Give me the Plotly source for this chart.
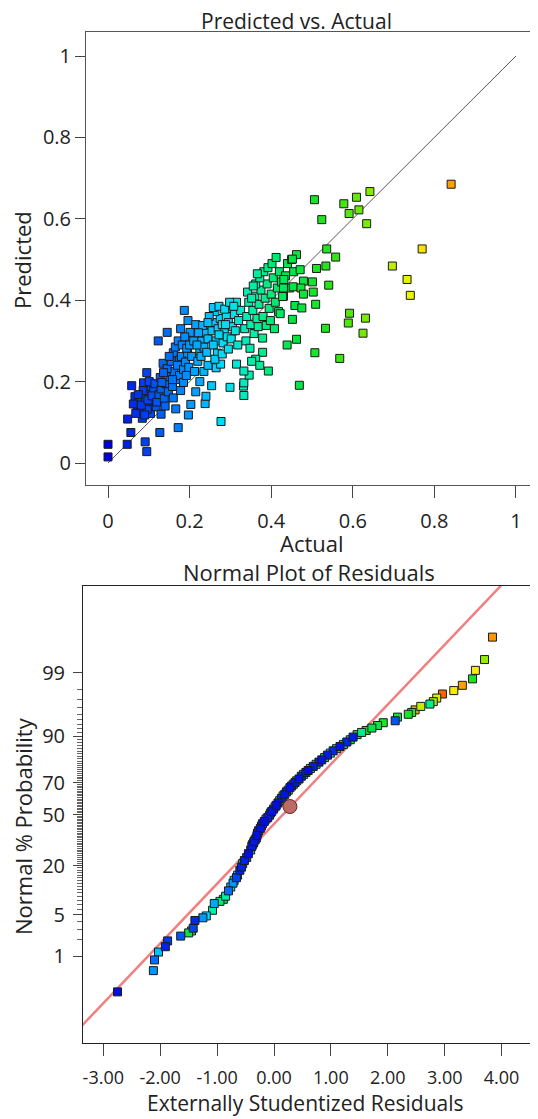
import plotly.graph_objects as go
from statistics import NormalDist

# ---------------- Predicted vs. Actual data ----------------
ACTUAL = [
    # dark blue
    0.000, 0.000, 0.047, 0.091, 0.095, 0.056, 0.048, 0.084, 0.058, 0.066, 0.078, 0.087, 0.095, 0.072, 0.080, 0.092,
    0.100, 0.102, 0.086, 0.110, 0.104, 0.115, 0.118, 0.096, 0.106, 0.062, 0.074, 0.090, 0.112, 0.082, 0.068, 0.098,
    0.108, 0.120, 0.101, 0.115,
    # blue
    0.127, 0.172, 0.130, 0.166, 0.197, 0.203, 0.123, 0.145, 0.187, 0.201, 0.135, 0.160, 0.176, 0.125, 0.130, 0.138,
    0.142, 0.148, 0.152, 0.158, 0.162, 0.168, 0.145, 0.155, 0.170, 0.175, 0.180, 0.185, 0.190, 0.195, 0.128, 0.136,
    0.150, 0.165, 0.172, 0.182, 0.188, 0.193, 0.140, 0.160, 0.178, 0.185, 0.192, 0.198, 0.132, 0.158, 0.205, 0.200,
    0.210, 0.178, 0.196, 0.215,
    # cyan
    0.238, 0.277, 0.240, 0.254, 0.265, 0.276, 0.299, 0.315, 0.212, 0.220, 0.225, 0.230, 0.235, 0.240, 0.245, 0.250,
    0.255, 0.260, 0.265, 0.270, 0.275, 0.280, 0.285, 0.290, 0.295, 0.300, 0.305, 0.310, 0.315, 0.320, 0.325, 0.262,
    0.248, 0.232, 0.222, 0.218, 0.228, 0.242, 0.258, 0.268, 0.282, 0.292, 0.302, 0.312, 0.258, 0.272, 0.286, 0.298,
    0.225, 0.235, 0.245, 0.215, 0.262, 0.280, 0.295, 0.318, 0.245, 0.288, 0.308, 0.272,
    # green
    0.332, 0.333, 0.333, 0.346, 0.333, 0.393, 0.379, 0.379, 0.335, 0.340, 0.345, 0.350, 0.355, 0.360, 0.365, 0.370,
    0.375, 0.380, 0.385, 0.390, 0.395, 0.400, 0.405, 0.410, 0.415, 0.420, 0.425, 0.430, 0.435, 0.440, 0.445, 0.450,
    0.455, 0.338, 0.348, 0.358, 0.368, 0.388, 0.398, 0.362, 0.352, 0.372, 0.408, 0.418, 0.342, 0.352, 0.362, 0.372,
    0.382, 0.392, 0.402, 0.412, 0.356, 0.366,
    # upper green
    0.506, 0.609, 0.642, 0.578, 0.591, 0.615, 0.524, 0.634, 0.536, 0.558, 0.462, 0.452, 0.471, 0.511, 0.534, 0.431,
    0.479, 0.501, 0.541, 0.454, 0.473, 0.430, 0.479, 0.503, 0.428, 0.458, 0.475, 0.509, 0.422, 0.452, 0.592, 0.589,
    0.631, 0.533, 0.625, 0.439, 0.462, 0.507, 0.568, 0.469,
    # yellow / orange
    0.841, 0.770, 0.697, 0.733, 0.741,
]
PREDICTED = [
    0.015, 0.046, 0.046, 0.052, 0.028, 0.075, 0.108, 0.110, 0.190, 0.163, 0.150, 0.197, 0.222, 0.135, 0.125, 0.160,
    0.142, 0.172, 0.178, 0.152, 0.122, 0.163, 0.138, 0.132, 0.188, 0.145, 0.168, 0.118, 0.178, 0.142, 0.122, 0.155,
    0.165, 0.150, 0.200, 0.195,
    0.075, 0.087, 0.120, 0.133, 0.118, 0.144, 0.300, 0.321, 0.375, 0.321, 0.245, 0.271, 0.253, 0.168, 0.182, 0.158,
    0.195, 0.175, 0.212, 0.188, 0.225, 0.205, 0.232, 0.250, 0.240, 0.215, 0.262, 0.230, 0.248, 0.270, 0.210, 0.222,
    0.262, 0.285, 0.300, 0.290, 0.310, 0.282, 0.140, 0.160, 0.178, 0.198, 0.215, 0.235, 0.198, 0.205, 0.262, 0.290,
    0.300, 0.330, 0.350, 0.340,
    0.146, 0.102, 0.164, 0.190, 0.234, 0.243, 0.186, 0.243, 0.225, 0.250, 0.275, 0.300, 0.285, 0.320, 0.305, 0.340,
    0.325, 0.345, 0.300, 0.330, 0.355, 0.340, 0.320, 0.360, 0.345, 0.380, 0.335, 0.365, 0.395, 0.350, 0.375, 0.372,
    0.360, 0.338, 0.320, 0.290, 0.262, 0.272, 0.290, 0.270, 0.295, 0.310, 0.305, 0.325, 0.382, 0.385, 0.378, 0.395,
    0.200, 0.225, 0.240, 0.175, 0.255, 0.268, 0.280, 0.290, 0.345, 0.340, 0.385, 0.315,
    0.189, 0.166, 0.197, 0.216, 0.226, 0.226, 0.272, 0.307, 0.330, 0.360, 0.395, 0.340, 0.375, 0.410, 0.355, 0.390,
    0.425, 0.360, 0.405, 0.440, 0.380, 0.415, 0.455, 0.395, 0.430, 0.470, 0.445, 0.410, 0.460, 0.490, 0.430, 0.500,
    0.470, 0.300, 0.282, 0.318, 0.335, 0.338, 0.350, 0.255, 0.250, 0.240, 0.330, 0.372, 0.420, 0.405, 0.440, 0.455,
    0.470, 0.480, 0.490, 0.505, 0.435, 0.465,
    0.647, 0.653, 0.667, 0.637, 0.613, 0.622, 0.598, 0.588, 0.526, 0.506, 0.512, 0.501, 0.475, 0.478, 0.484, 0.451,
    0.447, 0.445, 0.437, 0.433, 0.430, 0.430, 0.415, 0.420, 0.409, 0.387, 0.381, 0.390, 0.367, 0.353, 0.368, 0.344,
    0.356, 0.331, 0.319, 0.290, 0.304, 0.271, 0.257, 0.191,
    0.685, 0.526, 0.484, 0.451, 0.412,
]
DIAG = [0, 1]
TOP_TICKS = [0, 0.2, 0.4, 0.6, 0.8, 1]
TOP_TICKTEXT = ["0", "0.2", "0.4", "0.6", "0.8", "1"]

# ---------------- Normal plot of residuals data ----------------
RESID = [
    -2.75, -2.12, -2.10, -2.03, -1.91, -1.87, -1.64, -1.50, -1.45, -1.42, -1.39, -1.25, -1.19, -1.08, -1.05, -0.95,
    -0.89, -0.85, -0.80, -0.76, -0.72, -0.70, -0.66, -0.64, -0.60, -0.57, -0.55, -0.52, -0.48, -0.45, -0.41, -0.39,
    -0.38, -0.36, -0.35, -0.33, -0.31, -0.30, -0.29, -0.27, -0.24, -0.22, -0.20, -0.17, -0.14, -0.11, -0.08, -0.06,
    -0.04, -0.01, 0.02, 0.04, 0.07, 0.10, 0.13, 0.16, 0.19, 0.22, 0.25, 0.28, 0.31, 0.34, 0.37, 0.40,
    0.44, 0.48, 0.52, 0.56, 0.60, 0.64, 0.69, 0.74, 0.79, 0.84, 0.89, 0.94, 0.99, 1.04, 1.10, 1.16,
    1.22, 1.28, 1.34, 1.39, 1.46, 1.54, 1.62, 1.72, 1.82, 1.92,
    2.13, 2.17, 2.36, 2.42, 2.48, 2.58, 2.74, 2.80, 2.86, 2.96, 3.16, 3.31, 3.49, 3.54, 3.70, 3.84,
]
PROB = [
    0.18, 0.52, 0.85, 1.2, 1.5, 1.9, 2.3, 2.6, 2.8, 3.1, 4.1, 4.5, 4.8, 5.8, 7.2, 7.7,
    8.2, 9.0, 10.5, 11.7, 13.0, 14.0, 15.0, 16.0, 18.0, 19.4, 21.0, 22.5, 24.0, 26.0, 28.0, 30.0,
    31.0, 32.0, 33.0, 34.0, 35.0, 36.5, 38.0, 39.5, 41.0, 42.5, 44.0, 45.5, 47.0, 48.0, 49.5, 51.0,
    52.0, 53.5, 55.0, 56.0, 57.5, 59.0, 60.5, 62.0, 63.0, 64.5, 65.5, 67.0, 68.0, 69.0, 70.0, 71.0,
    72.0, 73.5, 74.5, 75.5, 76.5, 77.5, 78.5, 79.5, 80.5, 81.5, 82.5, 83.5, 84.3, 85.2, 86.0, 86.8,
    87.5, 88.3, 89.0, 89.8, 90.5, 91.1, 91.6, 92.2, 92.8, 93.4,
    93.8, 94.5, 95.0, 95.3, 95.7, 96.2, 96.5, 96.8, 97.2, 97.6, 97.9, 98.3, 98.7, 99.1, 99.45, 99.82,
]
RESID_COLOR = [
    0.02, 0.20, 0.15, 0.25, 0.05, 0.08, 0.12, 0.45, 0.50, 0.10, 0.06, 0.20, 0.28, 0.35, 0.22, 0.40,
    0.45, 0.35, 0.15, 0.30, 0.20, 0.28, 0.10, 0.30, 0.05, 0.05, 0.40, 0.05, 0.10, 0.02, 0.20, 0.04,
    0.05, 0.30, 0.04, 0.45, 0.06, 0.02, 0.25, 0.05, 0.03, 0.40, 0.05, 0.02, 0.30, 0.04, 0.06, 0.45,
    0.03, 0.05, 0.35, 0.02, 0.04, 0.28, 0.05, 0.48, 0.03, 0.06, 0.40, 0.02, 0.05, 0.30, 0.04, 0.50,
    0.03, 0.06, 0.42, 0.05, 0.02, 0.35, 0.04, 0.45, 0.05, 0.03, 0.50, 0.04, 0.30, 0.06, 0.45, 0.03,
    0.40, 0.05, 0.50, 0.04, 0.45, 0.38, 0.50, 0.45, 0.48, 0.52,
    0.12, 0.48, 0.50, 0.55, 0.83, 0.70, 0.38, 0.66, 0.72, 0.90, 0.76, 0.84, 0.52, 0.76, 0.66, 0.85,
]
LINE_RESID = [-3.5, 4.2]
LINE_PROB = [0.0167, 99.9963]
MARK_RESID = [0.28]
MARK_PROB = [55.2]
PROB_TICKS = [1, 5, 20, 50, 70, 90, 99]
RESID_TICKS = [-3, -2, -1, 0, 1, 2, 3, 4]

COLORSCALE = [
    [0.00, "rgb(0,0,220)"], [0.10, "rgb(0,70,240)"], [0.20, "rgb(0,150,255)"],
    [0.28, "rgb(0,220,255)"], [0.35, "rgb(0,240,170)"], [0.45, "rgb(0,230,70)"],
    [0.55, "rgb(40,230,20)"], [0.65, "rgb(140,235,0)"], [0.75, "rgb(245,245,0)"],
    [0.85, "rgb(255,150,0)"], [1.00, "rgb(255,0,0)"],
]

nd = NormalDist()
def z(p):
    return nd.inv_cdf(p / 100.0)

# The page body has an 8px default margin; lay the figure out in page pixels minus that offset.
OFF = 8
W, H = 538 - OFF, 1119 - OFF
FONT = "Open Sans, Noto Sans, sans-serif"
TXT = "#222222"

def xpaper(px):
    return (px - OFF) / W

def ypaper(px):
    return 1 - (px - OFF) / H

fig = go.Figure()

# top chart
fig.add_trace(go.Scatter(x=DIAG, y=DIAG, mode="lines", line=dict(color="#555555", width=1),
                         xaxis="x", yaxis="y", hoverinfo="skip"))
fig.add_trace(go.Scatter(
    x=ACTUAL, y=PREDICTED, mode="markers", xaxis="x", yaxis="y",
    marker=dict(symbol="square", size=8, color=ACTUAL, colorscale=COLORSCALE, cmin=0, cmax=1,
                line=dict(color="#1a1a1a", width=1)),
))

# bottom chart
fig.add_trace(go.Scatter(x=LINE_RESID, y=[z(p) for p in LINE_PROB], mode="lines",
                         line=dict(color="rgb(240,128,128)", width=2.5),
                         xaxis="x2", yaxis="y2", hoverinfo="skip"))
order = sorted(range(len(RESID)), key=lambda i: -RESID_COLOR[i])
fig.add_trace(go.Scatter(
    x=[RESID[i] for i in order], y=[z(PROB[i]) for i in order], mode="markers",
    xaxis="x2", yaxis="y2",
    marker=dict(symbol="square", size=8, color=[RESID_COLOR[i] for i in order],
                colorscale=COLORSCALE, cmin=0, cmax=1, line=dict(color="#1a1a1a", width=1)),
))
fig.add_trace(go.Scatter(
    x=MARK_RESID, y=[z(p) for p in MARK_PROB], mode="markers", xaxis="x2", yaxis="y2",
    marker=dict(symbol="circle", size=14, color="rgb(190,105,105)", line=dict(color="#5a2a2a", width=1)),
))

axis_common = dict(showgrid=False, zeroline=False, showline=True, ticks="outside", automargin=False,
                   tickcolor="#444444", tickwidth=1)
tf20 = dict(family=FONT, size=20, color=TXT)
tf18 = dict(family=FONT, size=18, color=TXT)

minor_vals = [z(p) for p in range(1, 100) if p not in PROB_TICKS]

fig.update_layout(
    width=W, height=H, margin=dict(l=0, r=0, t=0, b=0, pad=0, autoexpand=False),
    paper_bgcolor="white", plot_bgcolor="white", showlegend=False,
    font=dict(family=FONT, color=TXT),
    xaxis=dict(domain=[xpaper(86), 1], anchor="y", range=[-0.054, 1.054], tickmode="array",
               tickvals=TOP_TICKS, ticktext=TOP_TICKTEXT, ticklen=12, ticklabelstandoff=6,
               linecolor="#555555", mirror=True, tickfont=tf20, **axis_common),
    yaxis=dict(domain=[ypaper(485), ypaper(32)], anchor="x", range=[-0.054, 1.059], tickmode="array",
               tickvals=TOP_TICKS, ticktext=TOP_TICKTEXT, ticklen=10, linecolor="#555555",
               tickfont=tf20, **axis_common),
    xaxis2=dict(domain=[xpaper(83), 1], anchor="y2", range=[-3.357, 4.64], tickmode="array",
                tickvals=RESID_TICKS, ticktext=[f"{v:.2f}" for v in RESID_TICKS], ticklen=12,
                ticklabelstandoff=6, linecolor="#222222", mirror=True, tickfont=tf18, **axis_common),
    yaxis2=dict(domain=[ypaper(1043), ypaper(586)], anchor="x2", range=[-3.75, 3.75], tickmode="array",
                tickvals=[z(p) for p in PROB_TICKS], ticktext=[str(p) for p in PROB_TICKS], ticklen=9,
                ticklabelstandoff=4, linecolor="#222222", tickfont=tf20,
                minor=dict(tickmode="array", tickvals=minor_vals, ticklen=5, ticks="outside",
                           tickcolor="#666666", tickwidth=1),
                **axis_common),
)

def ann(text, x, y, size=22, angle=0):
    fig.add_annotation(text=text, x=xpaper(x), y=ypaper(y), xref="paper", yref="paper",
                       showarrow=False, xanchor="center", yanchor="middle", textangle=angle,
                       font=dict(family=FONT, size=size, color=TXT))

ann("Predicted vs. Actual", 296, 21, size=21)
ann("Actual", 312, 543)
ann("Predicted", 22, 260, angle=-90)
ann("Normal Plot of Residuals", 309, 572)
ann("Externally Studentized Residuals", 305, 1103, size=21)
ann("Normal % Probability", 23, 826, angle=-90)

fig.write_html("out.html")
